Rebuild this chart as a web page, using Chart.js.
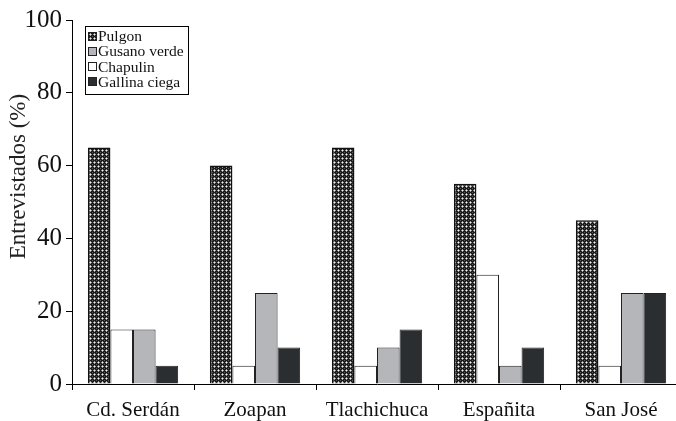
<!DOCTYPE html>
<html>
<head>
<meta charset="utf-8">
<script src="https://cdn.jsdelivr.net/npm/chart.js@4"></script>
<style>
  html, body { margin: 0; padding: 0; background: #fff; overflow: hidden; }
  #wrap { width: 676px; height: 421px; overflow: hidden; }
  canvas { display: block; }
</style>
</head>
<body>
<div id="wrap"><canvas id="c" width="684" height="421"></canvas></div>
<script>
// ---- data ----
const categories = ["Cd. Serdán", "Zoapan", "Tlachichuca", "Españita", "San José"];
const pulgon = [65, 60, 65, 55, 45];
const chapulin = [15, 5, 5, 30, 5];
const gusanoVerde = [15, 25, 10, 5, 25];
const gallinaCiega = [5, 10, 15, 10, 25];
const yTicks = [0, 20, 40, 60, 80, 100];
const seriesNames = ["Pulgon", "Chapulin", "Gusano verde", "Gallina ciega"];
const legendOrder = ["Pulgon", "Gusano verde", "Chapulin", "Gallina ciega"];
const yTitle = "Entrevistados (%)";

const SERIF = '"Liberation Serif", "Times New Roman", serif';

// ---- pattern fill ----
function makePattern() {
  const t = document.createElement('canvas');
  t.width = 4; t.height = 4;
  const g = t.getContext('2d');
  g.fillStyle = '#1c1c1c'; g.fillRect(0, 0, 4, 4);
  g.fillStyle = '#9a9a9a';
  g.fillRect(2, 1, 1, 1); g.fillRect(1, 2, 1, 1); g.fillRect(3, 2, 1, 1); g.fillRect(2, 3, 1, 1);
  g.fillStyle = '#f2f2f2';
  g.fillRect(2, 2, 1, 1);
  g.fillStyle = '#555';
  g.fillRect(0, 0, 1, 1);
  return t.getContext('2d').createPattern(t, 'repeat');
}
const ctx = document.getElementById('c').getContext('2d');
const patt = makePattern();

const fills = { "Pulgon": patt, "Chapulin": "#ffffff", "Gusano verde": "#b5b6b9", "Gallina ciega": "#2b2e31" };
const values = { "Pulgon": pulgon, "Chapulin": chapulin, "Gusano verde": gusanoVerde, "Gallina ciega": gallinaCiega };

const datasets = seriesNames.map(n => ({
  label: n,
  data: values[n],
  backgroundColor: fills[n],
  borderColor: n === "Pulgon" ? "#111" : "#222",
  borderWidth: n === "Pulgon" ? 1.5 : 1,
  borderSkipped: 'bottom',
  categoryPercentage: 0.74,
  barPercentage: 1.0
}));

const boxLegend = {
  id: 'boxLegend',
  afterDraw(chart) {
    const c = chart.ctx;
    const a = chart.chartArea;
    const x0 = a.left + 13, y0 = a.top + 6, w = 103, h = 68;
    c.save();
    c.fillStyle = '#fff';
    c.fillRect(x0, y0, w, h);
    c.strokeStyle = '#000'; c.lineWidth = 1;
    c.strokeRect(x0 + 0.5, y0 + 0.5, w, h);
    c.font = '15.5px ' + SERIF;
    c.textBaseline = 'middle';
    legendOrder.forEach((name, i) => {
      const cy = y0 + 10 + i * 15.3;
      const sx = x0 + 3, sy = Math.round(cy - 4.5);
      c.fillStyle = fills[name];
      c.fillRect(sx, sy, 9, 9);
      c.strokeStyle = '#222';
      c.strokeRect(sx + 0.5, sy + 0.5, 8, 8);
      c.fillStyle = '#111';
      c.fillText(name, sx + 10, cy + 1);
    });
    c.restore();
  }
};

const yTitlePlugin = {
  id: 'yTitlePlugin',
  afterDraw(chart) {
    const c = chart.ctx;
    const a = chart.chartArea;
    c.save();
    c.translate(19, a.top + (a.bottom - a.top) * 0.43);
    c.rotate(-Math.PI / 2);
    c.font = '23px ' + SERIF;
    c.fillStyle = '#222';
    c.textAlign = 'center';
    c.textBaseline = 'middle';
    c.fillText(yTitle, 0, 0);
    c.restore();
  }
};

new Chart(ctx, {
  type: 'bar',
  data: { labels: categories, datasets },
  plugins: [boxLegend, yTitlePlugin],
  options: {
    responsive: false,
    devicePixelRatio: 1,
    animation: false,
    layout: { padding: { top: 20, right: 2, left: 0, bottom: 0 } },
    plugins: { legend: { display: false }, tooltip: { enabled: false } },
    scales: {
      x: {
        afterFit(s) { s.height = 37; },
        grid: { offset: true, drawOnChartArea: false, tickLength: 6, color: '#000', tickColor: '#000' },
        border: { display: true, color: '#000', width: 1 },
        ticks: { color: '#111', padding: 8, maxRotation: 0, autoSkip: false,
                 font: { family: SERIF, size: 21 } }
      },
      y: {
        min: 0, max: 100,
        afterFit(s) { s.width = 72; },
        afterBuildTicks(s) { s.ticks = yTicks.map(v => ({ value: v })); },
        grid: { drawOnChartArea: false, tickLength: 6, color: '#000', tickColor: '#000' },
        border: { display: true, color: '#000', width: 1 },
        ticks: { color: '#111', padding: 4, font: { family: SERIF, size: 25 } }
      }
    }
  }
});
</script>
</body>
</html>
